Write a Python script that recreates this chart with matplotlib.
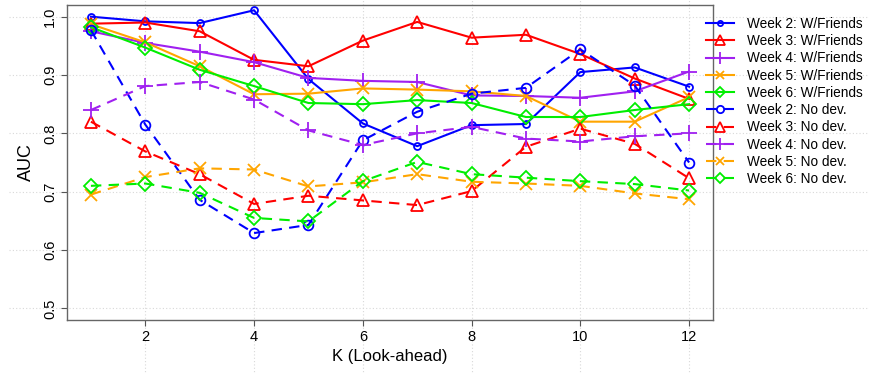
import matplotlib
matplotlib.use("Agg")
import matplotlib.pyplot as plt

plt.rcParams["font.family"] = ["Liberation Sans", "DejaVu Sans"]

k = list(range(1, 13))

wk2_friends = [1.000, 0.992, 0.989, 1.011, 0.893, 0.817, 0.778, 0.814, 0.816, 0.905, 0.913, 0.880]
wk3_friends = [0.988, 0.990, 0.975, 0.926, 0.915, 0.959, 0.991, 0.964, 0.969, 0.936, 0.894, 0.859]
wk4_friends = [0.975, 0.955, 0.940, 0.922, 0.895, 0.890, 0.888, 0.865, 0.864, 0.861, 0.872, 0.906]
wk5_friends = [0.987, 0.956, 0.915, 0.867, 0.868, 0.877, 0.875, 0.872, 0.864, 0.820, 0.820, 0.862]
wk6_friends = [0.982, 0.947, 0.909, 0.881, 0.852, 0.850, 0.857, 0.852, 0.828, 0.828, 0.840, 0.850]

wk2_nodev = [0.977, 0.815, 0.686, 0.629, 0.643, 0.788, 0.837, 0.868, 0.878, 0.944, 0.882, 0.750]
wk3_nodev = [0.820, 0.769, 0.730, 0.679, 0.693, 0.685, 0.677, 0.701, 0.777, 0.808, 0.782, 0.723]
wk4_nodev = [0.840, 0.881, 0.888, 0.858, 0.805, 0.780, 0.800, 0.811, 0.791, 0.786, 0.795, 0.800]
wk5_nodev = [0.695, 0.725, 0.740, 0.738, 0.709, 0.716, 0.730, 0.717, 0.714, 0.710, 0.697, 0.687]
wk6_nodev = [0.710, 0.714, 0.698, 0.655, 0.649, 0.718, 0.751, 0.730, 0.724, 0.718, 0.713, 0.702]

weeks = ["Week 2", "Week 3", "Week 4", "Week 5", "Week 6"]
friends = [wk2_friends, wk3_friends, wk4_friends, wk5_friends, wk6_friends]
nodev = [wk2_nodev, wk3_nodev, wk4_nodev, wk5_nodev, wk6_nodev]

colors = ["#0000ff", "#ff0000", "#a020f0", "#ffa500", "#00ee00"]
markers = ["o", "^", "+", "x", "D"]
msize_friends = [5, 9, 11, 8, 7]
msize_nodev = [7, 9, 11, 8, 7]

fig = plt.figure(figsize=(8.69, 3.74), dpi=100)
ax = fig.add_axes([0.0771, 0.1444, 0.7434, 0.8422])

yticks = [0.5, 0.6, 0.7, 0.8, 0.9, 1.0]
xticks = [2, 4, 6, 8, 10, 12]

# grid lines run past the plot box, as in the original
for yv in yticks:
    ax.plot([-0.09, 1.3], [yv, yv], transform=ax.get_yaxis_transform(),
            color="#d8d8d8", lw=0.8, ls=(0, (1, 2)), clip_on=False, zorder=0)
for xv in xticks:
    ax.plot([xv, xv], [-0.3, 1.1], transform=ax.get_xaxis_transform(),
            color="#d8d8d8", lw=0.8, ls=(0, (1, 2)), clip_on=False, zorder=0)

for i in range(5):
    ax.plot(k, friends[i], color=colors[i], lw=1.5, marker=markers[i],
            ms=msize_friends[i], mfc="none", mec=colors[i], mew=1.3,
            label=f"{weeks[i]}: W/Friends", zorder=3)
for i in range(5):
    ax.plot(k, nodev[i], color=colors[i], lw=1.5, ls=(0, (5, 3.5)),
            marker=markers[i], ms=msize_nodev[i], mfc="none", mec=colors[i],
            mew=1.3, label=f"{weeks[i]}: No dev.", zorder=3)

ax.set_xlim(0.56, 12.44)
ax.set_ylim(0.48, 1.02)
ax.set_xticks(xticks)
ax.set_yticks(yticks)
ax.set_yticklabels([f"{v:.1f}" for v in yticks], rotation=90, va="center")
ax.tick_params(axis="both", direction="out", length=4, width=0.8,
               color="#555555", labelsize=10.5, pad=3)
for s in ax.spines.values():
    s.set_color("#666666")
    s.set_linewidth(1.0)

ax.set_xlabel("K (Look-ahead)", fontsize=12, labelpad=4)
ax.set_ylabel("AUC", fontsize=13, labelpad=6)

ax.legend(loc="upper left", bbox_to_anchor=(0.812, 0.955),
          bbox_transform=fig.transFigure, frameon=False, fontsize=9.8,
          handlelength=2.1, handletextpad=0.95, labelspacing=0.24,
          borderpad=0, borderaxespad=0, markerscale=0.75)

fig.savefig("out.png", dpi=100)
